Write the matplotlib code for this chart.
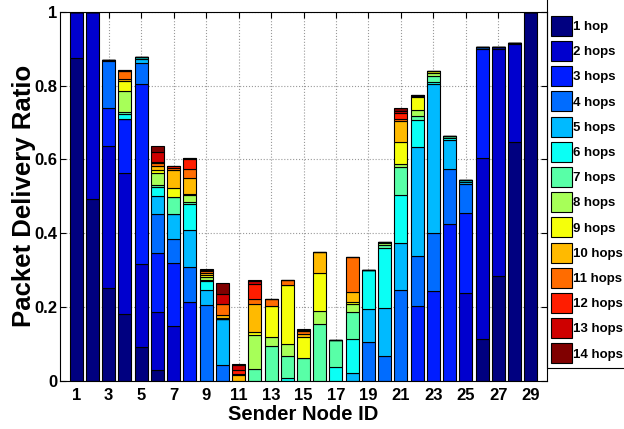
import numpy as np
import matplotlib
matplotlib.use('Agg')
import matplotlib.pyplot as plt
from matplotlib.patches import Rectangle

plt.rcParams['font.family'] = ['Liberation Sans', 'DejaVu Sans']
plt.rcParams['font.weight'] = 'bold'

# 发送节点编号
nodes = np.arange(1, 30)

# 各跳数的投递比例（每个节点一个值）
hop1 = [0.875, 0.493, 0.252, 0.180, 0.091, 0.030, 0, 0, 0, 0,
        0, 0, 0, 0, 0, 0, 0, 0, 0, 0,
        0, 0, 0, 0, 0, 0.114, 0.285, 0.646, 1.0]
hop2 = [0.125, 0.507, 0.384, 0.384, 0.225, 0.155, 0.147, 0, 0, 0,
        0, 0, 0, 0, 0, 0, 0, 0, 0, 0,
        0, 0, 0, 0, 0.239, 0.490, 0.613, 0.266, 0]
hop3 = [0, 0, 0.104, 0.145, 0.487, 0.162, 0.171, 0.213, 0, 0,
        0, 0, 0, 0, 0, 0, 0, 0, 0, 0,
        0, 0.202, 0.242, 0.424, 0.216, 0.294, 0.005, 0.002, 0]
hop4 = [0, 0, 0.126, 0, 0.057, 0.104, 0.067, 0.095, 0.204, 0.042,
        0, 0, 0, 0, 0, 0, 0, 0, 0.106, 0.067,
        0.247, 0.136, 0.159, 0.151, 0.078, 0.005, 0, 0, 0]
hop5 = [0, 0, 0.003, 0, 0.011, 0.049, 0.068, 0.100, 0.043, 0.126,
        0, 0, 0, 0, 0, 0, 0, 0.021, 0.087, 0.129,
        0.127, 0.294, 0.402, 0.077, 0.006, 0, 0, 0, 0]
hop6 = [0, 0, 0, 0.014, 0.007, 0.026, 0, 0.072, 0.023, 0,
        0, 0, 0, 0.007, 0, 0, 0.036, 0.092, 0.108, 0.164,
        0.128, 0.074, 0.006, 0.006, 0.004, 0, 0, 0, 0]
hop7 = [0, 0, 0, 0.006, 0, 0.005, 0.045, 0.005, 0.003, 0,
        0, 0.033, 0.093, 0.059, 0.061, 0.155, 0.075, 0.072, 0, 0.007,
        0.078, 0.011, 0.017, 0.004, 0, 0, 0, 0, 0]
hop8 = [0, 0, 0, 0.056, 0, 0.031, 0, 0.018, 0.007, 0,
        0, 0.090, 0.025, 0.034, 0, 0.034, 0, 0.024, 0, 0.005,
        0.006, 0.017, 0.009, 0, 0, 0, 0, 0, 0]
hop9 = [0, 0, 0, 0.028, 0, 0.010, 0.023, 0.004, 0.006, 0.003,
        0, 0.008, 0.084, 0.159, 0.057, 0.104, 0, 0.003, 0, 0.003,
        0.060, 0.036, 0.003, 0, 0, 0, 0, 0, 0]
hop10 = [0, 0, 0, 0.004, 0, 0.011, 0.050, 0.043, 0.006, 0.006,
         0.015, 0.076, 0, 0, 0.008, 0.056, 0, 0.028, 0, 0.002,
         0.059, 0.002, 0, 0, 0, 0, 0, 0, 0]
hop11 = [0, 0, 0, 0.022, 0, 0.008, 0.005, 0.024, 0.005, 0.030,
         0.002, 0.015, 0.020, 0.014, 0.008, 0, 0, 0.094, 0, 0,
         0.004, 0, 0, 0, 0, 0, 0, 0, 0]
hop12 = [0, 0, 0, 0, 0, 0.003, 0.005, 0.028, 0.002, 0,
         0.013, 0.039, 0, 0, 0, 0, 0, 0, 0, 0,
         0.016, 0.002, 0, 0, 0, 0, 0, 0, 0]
hop13 = [0, 0, 0, 0.003, 0, 0.026, 0.002, 0.002, 0.002, 0.029,
         0.012, 0.009, 0, 0, 0.004, 0, 0, 0, 0, 0,
         0.005, 0, 0, 0, 0, 0, 0, 0, 0]
hop14 = [0, 0, 0, 0, 0, 0.017, 0, 0, 0.002, 0.029,
         0.004, 0.003, 0, 0, 0.003, 0, 0, 0, 0, 0,
         0.009, 0, 0, 0, 0, 0, 0, 0, 0]

hops = [hop1, hop2, hop3, hop4, hop5, hop6, hop7,
        hop8, hop9, hop10, hop11, hop12, hop13, hop14]
labels = ['1 hop'] + ['%d hops' % k for k in range(2, 15)]

# MATLAB 风格的 jet 色表
t = np.linspace(0, 1, len(hops))
colors = np.column_stack([np.clip(1.5 - np.abs(4 * t - 3), 0, 1),
                          np.clip(1.5 - np.abs(4 * t - 2), 0, 1),
                          np.clip(1.5 - np.abs(4 * t - 1), 0, 1)])

fig = plt.figure(figsize=(6.24, 4.29), dpi=100)
ax = fig.add_axes([60 / 624, 1 - 380.7 / 429, 487 / 624, 369 / 429])

# 堆叠柱状图
bottom = np.zeros(len(nodes))
for vals, c, lab in zip(hops, colors, labels):
    vals = np.array(vals)
    ax.bar(nodes, vals, 0.8, bottom=bottom, color=c, edgecolor='black',
           linewidth=0.8, label=lab, zorder=2)
    bottom += vals

ax.set_xlim(0, 30)
ax.set_ylim(0, 1)
ax.set_xticks(np.arange(1, 30, 2))
ax.set_yticks([0, 0.2, 0.4, 0.6, 0.8, 1])
ax.set_yticklabels(['0', '0.2', '0.4', '0.6', '0.8', '1'])
ax.tick_params(direction='in', top=True, right=True, length=4, width=0.8,
               labelsize=12)
ax.tick_params(axis='x', pad=5)
ax.tick_params(axis='y', pad=2)
ax.grid(True, linestyle=':', color='#999999', linewidth=0.8, zorder=0)
ax.set_axisbelow(True)
for s in ax.spines.values():
    s.set_linewidth(0.8)

ax.set_xlabel('Sender Node ID', fontsize=14.5, fontweight='bold', labelpad=2)
ax.set_ylabel('Packet Delivery Ratio', fontsize=18.5, fontweight='bold', labelpad=-1.5)

# 图例（色块 20px 高，行距 25px）
fs = 9.5 * 100 / 72
hh = (20 / fs - 0.245) / 0.65
leg = fig.legend(loc='upper left', bbox_to_anchor=(551 / 624, 1 - 15.7 / 429),
                 bbox_transform=fig.transFigure, frameon=False,
                 fontsize=9.5, handlelength=21 / fs, handleheight=hh,
                 labelspacing=5.2 / fs, handletextpad=0.05, borderpad=0,
                 borderaxespad=0)
fig.add_artist(Rectangle((547 / 624, 1 - 368 / 429), 0.3, 1.0,
                         transform=fig.transFigure, fill=False,
                         edgecolor='black', linewidth=0.8, clip_on=False))

fig.savefig('out.png', dpi=100)
